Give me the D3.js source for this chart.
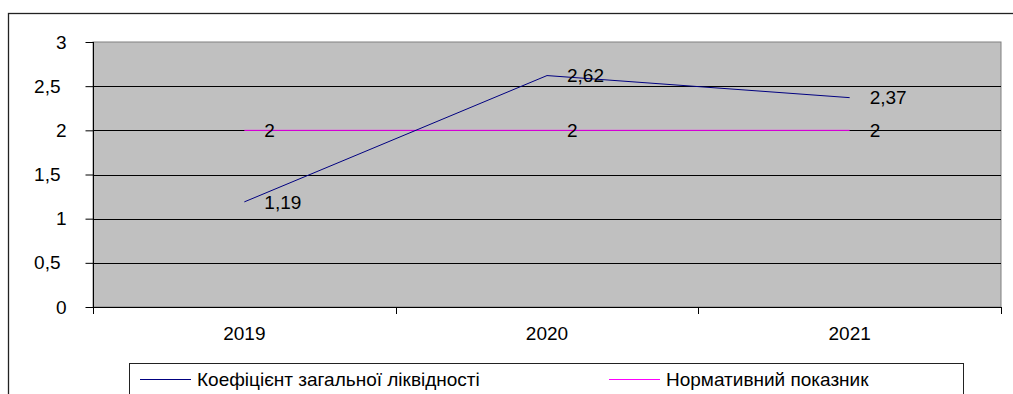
<!DOCTYPE html>
<html>
<head>
<meta charset="utf-8">
<script src="https://cdn.jsdelivr.net/npm/d3@7"></script>
<style>
  html, body { margin: 0; padding: 0; background: #fff; }
  svg { display: block; font-family: "Liberation Sans", Arial, sans-serif; }
</style>
</head>
<body>
<svg id="chart" width="1013" height="394"></svg>
<script>
// Data
const years = ["2019", "2020", "2021"];
const liquidity = [1.19, 2.62, 2.37];   // Коефіцієнт загальної ліквідності
const normative = [2, 2, 2];            // Нормативний показник
const yTicks = [0, 0.5, 1, 1.5, 2, 2.5, 3];
const seriesNames = ["Коефіцієнт загальної ліквідності", "Нормативний показник"];

const svg = d3.select("#chart");
const W = 1013, H = 394;
const plot = { left: 93, top: 42, right: 1001, bottom: 307 };
const fontSize = 19;
const fmt = v => String(v).replace(".", ",");

// Outer chart frame (continues past the visible window)
svg.append("rect")
  .attr("x", 8.5).attr("y", 13.5)
  .attr("width", W + 20).attr("height", H + 20)
  .attr("fill", "#fff").attr("stroke", "#222").attr("stroke-width", 1.3);

const x = d3.scaleBand().domain(years).range([plot.left, plot.right]);
const y = d3.scaleLinear().domain([0, 3]).range([plot.bottom, plot.top]);
const cx = d => x(d) + x.bandwidth() / 2;

// Plot area background
svg.append("rect")
  .attr("x", plot.left).attr("y", plot.top)
  .attr("width", plot.right - plot.left).attr("height", plot.bottom - plot.top)
  .attr("fill", "#c0c0c0").attr("stroke", "#808080").attr("stroke-width", 1);

// Horizontal gridlines
svg.append("g").selectAll("line")
  .data(yTicks.filter(t => t > 0 && t < 3))
  .join("line")
  .attr("x1", plot.left).attr("x2", plot.right)
  .attr("y1", d => Math.round(y(d)) + 0.5).attr("y2", d => Math.round(y(d)) + 0.5)
  .attr("stroke", "#000").attr("stroke-width", 1);

// Y axis
const yAxis = d3.axisLeft(y).tickValues(yTicks).tickSize(8).tickPadding(0).tickFormat(fmt);
const gy = svg.append("g").attr("transform", `translate(${plot.left + 0.5},0)`).call(yAxis);
gy.select(".domain").attr("stroke", "#000").attr("d", `M0,${plot.top}V${plot.bottom}`);
gy.selectAll(".tick line").attr("stroke", "#000");
gy.selectAll(".tick text")
  .attr("x", d => Number.isInteger(d) ? -27 : -33)
  .attr("fill", "#000")
  .style("font-size", fontSize + "px")
  .style("font-family", "'Liberation Sans', Arial, sans-serif");

// X axis: tick marks on category boundaries, labels at category centres
const gx = svg.append("g");
gx.append("line")
  .attr("x1", plot.left).attr("x2", plot.right)
  .attr("y1", plot.bottom + 0.5).attr("y2", plot.bottom + 0.5)
  .attr("stroke", "#000");
const bounds = years.map(d => x(d)).concat([x(years[years.length - 1]) + x.bandwidth()]);
gx.selectAll("line.tk").data(bounds).join("line").attr("class", "tk")
  .attr("x1", d => Math.round(d) + 0.5).attr("x2", d => Math.round(d) + 0.5)
  .attr("y1", plot.bottom).attr("y2", plot.bottom + 7)
  .attr("stroke", "#000");
gx.selectAll("text").data(years).join("text")
  .attr("x", d => cx(d)).attr("y", 340)
  .attr("text-anchor", "middle")
  .style("font-size", fontSize + "px")
  .text(d => d);

// Series lines
const line = d3.line().x((d, i) => cx(years[i])).y(d => y(d));
svg.append("path").datum(normative).attr("d", line)
  .attr("fill", "none").attr("stroke", "#ff00ff").attr("stroke-width", 1);
svg.append("path").datum(liquidity).attr("d", line)
  .attr("fill", "none").attr("stroke", "#000080").attr("stroke-width", 1);

// Data labels (to the right of each point)
function labels(values) {
  svg.append("g").selectAll("text").data(values).join("text")
    .attr("x", (d, i) => cx(years[i]) + 20)
    .attr("y", d => y(d))
    .attr("dy", "0.35em")
    .style("font-size", fontSize + "px")
    .text(d => fmt(d));
}
labels(normative);
labels(liquidity);

// Legend
const lg = svg.append("g");
lg.append("rect")
  .attr("x", 129.5).attr("y", 363.5).attr("width", 834).attr("height", 60)
  .attr("fill", "#fff").attr("stroke", "#222").attr("stroke-width", 1);
const legendItems = [
  { name: seriesNames[0], color: "#000080", x: 140 },
  { name: seriesNames[1], color: "#ff00ff", x: 609 }
];
legendItems.forEach(it => {
  lg.append("line")
    .attr("x1", it.x).attr("x2", it.x + 51)
    .attr("y1", 379.5).attr("y2", 379.5)
    .attr("stroke", it.color).attr("stroke-width", 1);
  lg.append("text")
    .attr("x", it.x + 57).attr("y", 379.5).attr("dy", "0.35em")
    .style("font-size", fontSize + "px")
    .text(it.name);
});
</script>
</body>
</html>
